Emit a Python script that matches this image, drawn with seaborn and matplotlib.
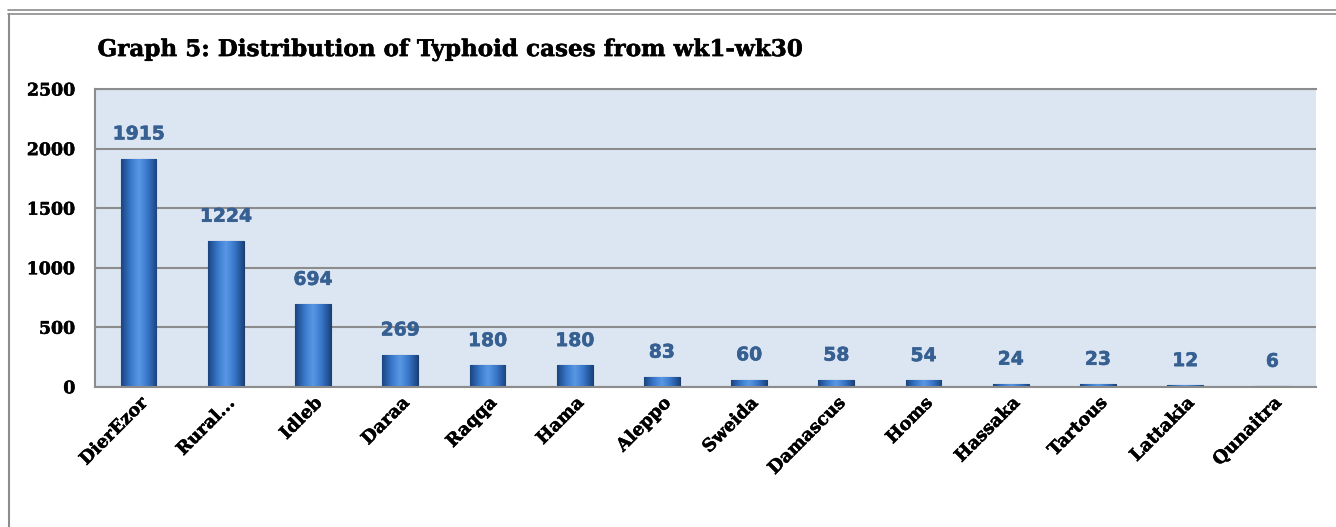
import numpy as np
import pandas as pd
import matplotlib
matplotlib.use("Agg")
import matplotlib.pyplot as plt
import matplotlib.patheffects as pe
from matplotlib.lines import Line2D
from matplotlib.colors import LinearSegmentedColormap
import seaborn as sns

regions = ["DierEzor", "Rural...", "Idleb", "Daraa", "Raqqa", "Hama", "Aleppo",
           "Sweida", "Damascus", "Homs", "Hassaka", "Tartous", "Lattakia", "Qunaitra"]
cases = [1915, 1224, 694, 269, 180, 180, 83, 60, 58, 54, 24, 23, 12, 6]
yticks = [0, 500, 1000, 1500, 2000, 2500]

df = pd.DataFrame({"region": regions, "cases": cases})

sns.set_theme(style="white")
plt.rcParams["font.family"] = ["DejaVu Serif"]
plt.rcParams["text.color"] = "black"
plt.rcParams["xtick.color"] = "black"
plt.rcParams["ytick.color"] = "black"

thick = [pe.withStroke(linewidth=0.35, foreground="black")]

fig = plt.figure(figsize=(13.36, 5.27), dpi=100)
ax = fig.add_axes([0.0711, 0.266, 0.9139, 0.565])
ax.set_facecolor("#DCE6F2")

sns.barplot(data=df, x="region", y="cases", ax=ax, color="#3F7FD0",
            width=0.41, edgecolor="#1C3D6E", linewidth=0.8, saturation=1)

# cylinder-like shading on each bar
cmap = LinearSegmentedColormap.from_list("barshade", ["#1B4580", "#3775C8", "#5A98E6", "#3775C8", "#1B4580"])
grad = np.linspace(0, 1, 64).reshape(1, -1)
for p in ax.patches:
    x0, y0 = p.get_x(), p.get_y()
    w, h = p.get_width(), p.get_height()
    im = ax.imshow(grad, cmap=cmap, aspect="auto", extent=[x0, x0 + w, y0, y0 + h],
                   zorder=p.get_zorder() + 0.1)
    im.set_clip_path(p)

ax.set_xlim(-0.5, len(regions) - 0.5)
ax.set_ylim(0, 2500)
ax.set_yticks(yticks)
ax.yaxis.grid(True, color="#8C8C8C", linewidth=1.5)
ax.set_axisbelow(True)
ax.set_xlabel("")
ax.set_ylabel("")

for s in ["left", "bottom", "top"]:
    ax.spines[s].set_visible(True)
    ax.spines[s].set_color("#8C8C8C")
    ax.spines[s].set_linewidth(1.5)
ax.spines["right"].set_visible(False)

ax.tick_params(axis="both", length=0)
ax.tick_params(axis="y", pad=14, labelsize=12.5)
for t in ax.get_yticklabels():
    t.set_fontweight("bold")
    t.set_path_effects(thick)
ax.tick_params(axis="x", pad=5, labelsize=12.8)
plt.setp(ax.get_xticklabels(), rotation=45, ha="right", rotation_mode="anchor",
         fontweight="bold", path_effects=thick)

blue_thick = [pe.withStroke(linewidth=0.4, foreground="#376092")]
for i, v in enumerate(cases):
    ax.annotate(str(v), (i, v), xytext=(0, 11), textcoords="offset points",
                ha="center", va="bottom", fontsize=13.5, fontweight="bold",
                color="#376092", family="DejaVu Sans", path_effects=blue_thick)

fig.text(0.073, 0.905, "Graph 5: Distribution of Typhoid cases from wk1-wk30",
         fontsize=16.6, fontweight="bold", va="center", ha="left", color="black",
         path_effects=thick)

# outer frame lines
fig.add_artist(Line2D([0.006, 1.0], [0.981, 0.981], transform=fig.transFigure, color="#8C8C8C", lw=1.2))
fig.add_artist(Line2D([0.006, 1.0], [0.973, 0.973], transform=fig.transFigure, color="#8C8C8C", lw=1.2))
fig.add_artist(Line2D([0.0065, 0.0065], [0.0, 0.973], transform=fig.transFigure, color="#8C8C8C", lw=1.5))

fig.savefig("out.png", dpi=100)
